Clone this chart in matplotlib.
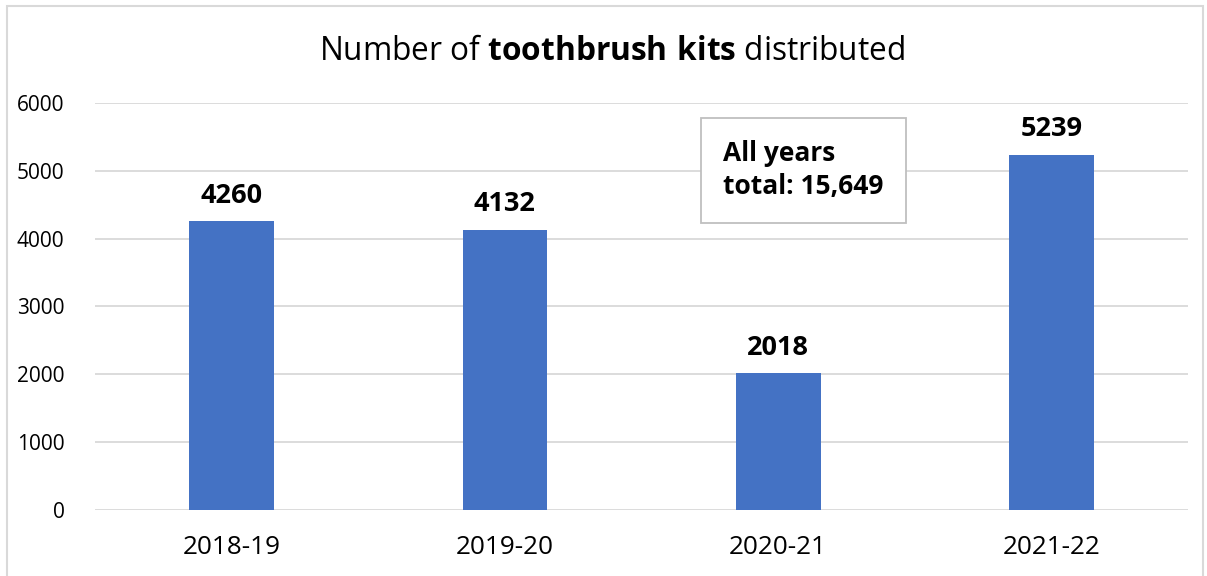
import matplotlib.pyplot as plt
import numpy as np
from matplotlib.patches import Rectangle

plt.rcParams['font.family'] = ['Open Sans', 'DejaVu Sans']
plt.rcParams['mathtext.fontset'] = 'custom'
plt.rcParams['mathtext.rm'] = 'Open Sans'
plt.rcParams['mathtext.bf'] = 'Open Sans:bold'

years = ['2018-19', '2019-20', '2020-21', '2021-22']
kits = [4260, 4132, 2018, 5239]
total_note = 'All years\ntotal: 15,649'

fig = plt.figure(figsize=(12.07, 5.76), dpi=100)
ax = fig.add_axes([0.0787, 0.1146, 0.9056, 0.7066])

x = np.arange(len(years))
ax.bar(x, kits, width=0.31, color='#4472C4', zorder=3)
for xi, v in zip(x, kits):
    ax.annotate(str(v), (xi, v), xytext=(0, 9), textcoords='offset points',
                ha='center', va='bottom', fontsize=19.5, fontweight='bold')

ax.set_xlim(-0.5, len(years) - 0.5)
ax.set_ylim(0, 6000)
ax.set_yticks(np.arange(0, 6001, 1000))
ax.set_xticks(x)
ax.set_xticklabels(years, fontsize=18.8)
ax.tick_params(axis='y', labelsize=15, length=0, pad=22)
ax.tick_params(axis='x', length=0, pad=18)
ax.grid(axis='y', color='#D9D9D9', linewidth=1.3, zorder=0)
for s in ax.spines.values():
    s.set_visible(False)

fig.text(0.507, 0.91, r'Number of $\mathbf{toothbrush\ kits}$ distributed',
         ha='center', va='center', fontsize=22.8)

ax.text(0.575, 0.835, total_note, transform=ax.transAxes, ha='left', va='center',
        fontsize=19, fontweight='bold', linespacing=1.3,
        bbox=dict(boxstyle='square,pad=0.85', fc='white', ec='#BFBFBF', lw=1.3),
        zorder=5)

fig.patches.append(Rectangle((7 / 1207, -0.01), 1196 / 1207, 1 - 6 / 576 + 0.01,
                             transform=fig.transFigure, fill=False,
                             ec='#D9D9D9', lw=1.5))

fig.savefig('out.png', dpi=100)
